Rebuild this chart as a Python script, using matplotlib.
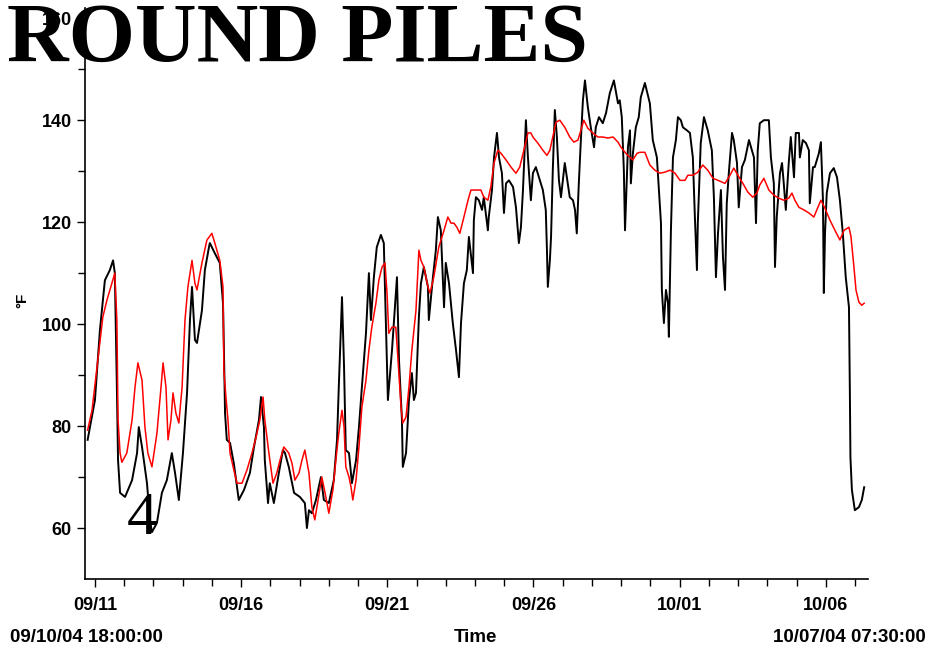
import matplotlib
matplotlib.use("Agg")
import matplotlib.pyplot as plt
import matplotlib.dates as mdates
import pandas as pd

# day offsets from 09/11/04 00:00, temperatures in °F
START = pd.Timestamp("2004-09-11")
X_RANGE = (-0.34, 26.44)

black_days = [
    -0.25, 0.00, 0.17, 0.34, 0.51, 0.62, 0.68, 0.75, 0.79, 0.86,
    1.03, 1.27, 1.44, 1.50, 1.61, 1.78, 1.88, 1.95, 2.12, 2.29,
    2.46, 2.63, 2.74, 2.87, 3.01, 3.15, 3.25, 3.32, 3.42, 3.49,
    3.66, 3.76, 3.90, 3.93, 4.10, 4.27, 4.38, 4.41, 4.45, 4.51,
    4.62, 4.75, 4.92, 5.10, 5.30, 5.44, 5.61, 5.68, 5.78, 5.81,
    5.92, 5.98, 6.12, 6.29, 6.43, 6.50, 6.63, 6.81, 7.01, 7.18,
    7.25, 7.32, 7.42, 7.56, 7.73, 7.83, 8.00, 8.17, 8.28, 8.34,
    8.45, 8.52, 8.58, 8.69, 8.79, 8.93, 9.03, 9.13, 9.27, 9.37,
    9.44, 9.54, 9.64, 9.78, 9.88, 9.95, 10.02, 10.16, 10.33, 10.40,
    10.50, 10.53, 10.64, 10.74, 10.84, 10.91, 10.98, 11.08, 11.15, 11.25,
    11.39, 11.42, 11.56, 11.66, 11.73, 11.83, 11.94, 12.00, 12.11, 12.24,
    12.35, 12.45, 12.52, 12.62, 12.72, 12.79, 12.93, 12.96, 13.03, 13.13,
    13.24, 13.30, 13.44, 13.47, 13.58, 13.65, 13.75, 13.82, 13.92, 13.99,
    14.06, 14.16, 14.30, 14.40, 14.50, 14.57, 14.64, 14.74, 14.81, 14.91,
    14.98, 15.08, 15.22, 15.32, 15.42, 15.46, 15.49, 15.56, 15.60, 15.66,
    15.73, 15.80, 15.87, 15.94, 16.07, 16.14, 16.24, 16.35, 16.42, 16.48,
    16.55, 16.62, 16.69, 16.76, 16.86, 16.96, 17.07, 17.13, 17.24, 17.37,
    17.48, 17.61, 17.75, 17.89, 17.95, 18.02, 18.09, 18.13, 18.23, 18.30,
    18.33, 18.40, 18.50, 18.60, 18.67, 18.81, 18.98, 19.08, 19.22, 19.29,
    19.36, 19.39, 19.46, 19.53, 19.60, 19.63, 19.70, 19.77, 19.87, 19.94,
    20.04, 20.11, 20.25, 20.35, 20.45, 20.52, 20.59, 20.62, 20.72, 20.83,
    20.96, 21.10, 21.17, 21.24, 21.31, 21.41, 21.48, 21.55, 21.61, 21.68,
    21.79, 21.85, 21.96, 22.02, 22.13, 22.23, 22.37, 22.47, 22.54, 22.61,
    22.67, 22.74, 22.88, 23.05, 23.12, 23.22, 23.26, 23.32, 23.43, 23.50,
    23.56, 23.63, 23.73, 23.80, 23.91, 23.97, 24.08, 24.11, 24.21, 24.32,
    24.42, 24.45, 24.56, 24.62, 24.76, 24.83, 24.90, 24.93, 24.97, 25.03,
    25.14, 25.27, 25.38, 25.48, 25.58, 25.65, 25.68, 25.79, 25.82, 25.84,
    25.89, 25.99, 26.13, 26.23, 26.31,
]
black_temp = [
    77.3, 85.1, 98.8, 108.6, 110.6, 112.5, 110.0, 87.6, 73.3, 66.9,
    66.1, 69.4, 74.7, 79.8, 75.9, 68.8, 61.6, 59.2, 61.0, 66.9,
    69.4, 74.7, 70.8, 65.5, 74.7, 86.5, 100.8, 107.3, 96.9, 96.3,
    102.7, 110.6, 115.1, 115.9, 113.9, 112.0, 104.1, 95.5, 82.5, 77.3,
    76.7, 72.7, 65.5, 67.5, 70.8, 75.9, 81.2, 85.7, 79.8, 73.3,
    64.9, 68.8, 64.9, 70.8, 75.3, 74.7, 72.0, 66.9, 66.1, 64.9,
    60.0, 63.5, 62.9, 65.5, 70.0, 65.5, 64.9, 69.4, 77.3, 87.6,
    105.3, 91.6, 75.3, 74.7, 68.8, 73.3, 79.8, 87.6, 98.2, 110.0,
    100.8, 109.2, 115.1, 117.5, 115.9, 100.8, 85.1, 94.9, 109.2, 92.9,
    81.2, 72.0, 74.7, 85.1, 90.4, 85.1, 86.5, 101.4, 108.0, 111.2,
    107.3, 100.8, 109.2, 114.5, 121.0, 118.4, 103.3, 112.0, 108.0, 100.2,
    94.9, 89.6, 100.2, 108.0, 110.6, 117.1, 110.0, 120.4, 124.9, 124.3,
    122.4, 124.9, 118.4, 121.0, 126.3, 132.7, 137.5, 132.7, 129.6, 121.8,
    127.6, 128.2, 126.9, 122.9, 115.9, 119.0, 126.3, 140.0, 132.7, 124.3,
    129.6, 130.8, 128.2, 126.3, 122.4, 114.5, 107.3, 112.5, 117.1, 130.2,
    142.0, 136.7, 128.2, 124.9, 131.6, 128.8, 124.9, 124.3, 122.4, 117.8,
    127.6, 136.1, 143.9, 147.8, 142.5, 138.6, 134.7, 138.6, 140.6, 139.4,
    141.4, 145.3, 147.8, 143.3, 143.9, 140.6, 130.2, 118.4, 134.7, 138.0,
    127.6, 133.5, 138.6, 140.6, 144.5, 147.3, 143.3, 136.1, 132.7, 126.3,
    119.8, 106.7, 100.2, 106.7, 104.1, 97.5, 118.4, 132.7, 136.1, 140.6,
    140.0, 138.6, 138.0, 137.5, 132.7, 121.0, 110.6, 119.8, 135.5, 140.6,
    138.0, 134.1, 124.9, 109.2, 117.8, 126.3, 113.1, 106.7, 123.7, 129.6,
    137.5, 136.1, 131.6, 122.9, 130.8, 132.2, 136.1, 134.1, 132.7, 119.8,
    134.1, 139.4, 140.0, 140.0, 132.7, 127.6, 111.2, 121.0, 129.6, 131.6,
    127.6, 122.4, 131.6, 136.7, 128.8, 137.5, 137.5, 132.7, 136.1, 135.5,
    134.1, 123.7, 130.8, 130.8, 133.5, 135.7, 124.3, 106.1, 117.8, 125.7,
    129.6, 130.6, 128.8, 124.3, 117.8, 112.0, 109.2, 103.3, 87.1, 73.9,
    67.5, 63.5, 64.1, 65.5, 68.0,
]

red_days = [
    -0.25, -0.10, 0.10, 0.27, 0.41, 0.58, 0.68, 0.75, 0.79, 0.86,
    0.92, 1.09, 1.27, 1.37, 1.47, 1.61, 1.71, 1.81, 1.95, 2.12,
    2.26, 2.33, 2.43, 2.50, 2.60, 2.67, 2.77, 2.87, 2.98, 3.08,
    3.18, 3.32, 3.42, 3.49, 3.66, 3.83, 4.00, 4.10, 4.27, 4.38,
    4.41, 4.48, 4.55, 4.62, 4.75, 4.86, 5.03, 5.20, 5.37, 5.51,
    5.64, 5.75, 5.81, 5.95, 6.09, 6.22, 6.33, 6.46, 6.63, 6.74,
    6.84, 6.98, 7.08, 7.18, 7.32, 7.42, 7.52, 7.63, 7.76, 7.87,
    8.00, 8.14, 8.24, 8.34, 8.45, 8.52, 8.58, 8.69, 8.76, 8.82,
    8.93, 9.03, 9.13, 9.27, 9.37, 9.47, 9.61, 9.71, 9.82, 9.92,
    9.99, 10.05, 10.16, 10.29, 10.36, 10.47, 10.53, 10.64, 10.74, 10.84,
    10.98, 11.08, 11.15, 11.25, 11.39, 11.46, 11.59, 11.76, 11.94, 12.07,
    12.18, 12.28, 12.38, 12.48, 12.62, 12.76, 12.86, 13.03, 13.20, 13.30,
    13.44, 13.54, 13.65, 13.78, 13.89, 14.06, 14.23, 14.40, 14.53, 14.67,
    14.81, 14.91, 14.98, 15.15, 15.32, 15.46, 15.56, 15.66, 15.77, 15.90,
    16.07, 16.24, 16.38, 16.52, 16.62, 16.72, 16.86, 17.03, 17.20, 17.37,
    17.54, 17.72, 17.89, 17.99, 18.16, 18.30, 18.40, 18.54, 18.64, 18.81,
    18.98, 19.15, 19.32, 19.49, 19.67, 19.84, 20.01, 20.18, 20.28, 20.45,
    20.62, 20.79, 20.96, 21.14, 21.31, 21.55, 21.72, 21.85, 21.99, 22.16,
    22.33, 22.50, 22.64, 22.74, 22.88, 23.05, 23.22, 23.39, 23.56, 23.73,
    23.84, 23.94, 24.08, 24.25, 24.42, 24.59, 24.69, 24.83, 24.97, 25.14,
    25.31, 25.48, 25.62, 25.79, 25.86, 25.96, 26.03, 26.13, 26.23, 26.31,
]
red_temp = [
    79.2, 83.1, 92.9, 101.4, 104.7, 108.0, 110.0, 100.8, 81.2, 74.7,
    72.9, 74.7, 81.2, 87.6, 92.4, 89.0, 79.8, 74.7, 72.0, 78.6,
    87.6, 92.4, 87.6, 77.3, 81.2, 86.5, 82.5, 80.6, 87.6, 100.8,
    107.3, 112.5, 108.0, 106.7, 112.0, 116.5, 117.8, 115.9, 112.5, 107.3,
    91.0, 85.7, 81.2, 74.7, 71.4, 68.8, 68.8, 71.4, 74.7, 77.8,
    81.2, 85.7, 81.2, 74.7, 68.8, 70.8, 73.3, 75.9, 74.7, 72.7,
    69.4, 70.8, 73.3, 75.3, 70.8, 64.1, 61.6, 65.5, 70.0, 66.9,
    62.9, 67.5, 73.3, 78.6, 83.1, 79.8, 72.0, 70.0, 68.0, 65.5,
    69.4, 75.9, 83.7, 89.0, 94.9, 99.4, 104.1, 108.6, 111.2, 112.0,
    106.1, 98.2, 99.4, 99.4, 93.5, 83.7, 80.6, 81.8, 87.6, 94.9,
    102.7, 114.5, 112.5, 111.2, 107.3, 106.1, 109.2, 115.1, 118.4, 121.0,
    119.8, 119.8, 119.0, 117.8, 121.0, 124.3, 126.3, 126.3, 126.3, 124.9,
    124.3, 126.9, 131.6, 134.1, 133.5, 132.2, 130.8, 129.6, 130.8, 134.1,
    137.5, 137.5, 136.7, 135.5, 134.1, 133.1, 134.1, 136.7, 139.6, 140.0,
    138.6, 136.7, 135.7, 136.1, 138.0, 140.0, 138.4, 137.5, 136.7, 136.7,
    136.5, 136.7, 135.7, 134.7, 133.5, 132.7, 132.2, 133.5, 133.7, 133.7,
    131.2, 130.2, 129.6, 129.8, 130.2, 129.6, 128.2, 128.2, 129.2, 129.2,
    129.8, 131.2, 130.2, 128.6, 128.2, 127.6, 129.2, 130.6, 129.2, 127.6,
    125.9, 124.9, 125.7, 127.3, 128.6, 126.3, 125.3, 124.7, 124.3, 124.7,
    125.7, 124.3, 122.9, 122.4, 121.8, 121.0, 122.4, 124.3, 122.7, 120.4,
    118.4, 116.5, 118.4, 119.0, 117.1, 111.2, 106.7, 104.3, 103.7, 104.1,
]

NARROW = ["Liberation Sans Narrow", "Liberation Sans", "DejaVu Sans"]
SERIF = ["Liberation Serif", "DejaVu Serif"]


def to_time(days):
    return START + pd.to_timedelta(days, unit="D")


fig = plt.figure(figsize=(9.31, 6.53), dpi=100)
ax = fig.add_axes([0.0913, 0.1133, 0.841, 0.8744])

ax.plot(to_time(black_days), black_temp, color="black", lw=1.4)
ax.plot(to_time(red_days), red_temp, color="#ff0000", lw=1.1)

ax.set_xlim(to_time(X_RANGE[0]), to_time(X_RANGE[1]))
ax.set_ylim(50, 162)

for s in ("top", "right"):
    ax.spines[s].set_visible(False)
ax.spines["left"].set_linewidth(1.2)
ax.spines["bottom"].set_linewidth(1.2)

ax.set_yticks(range(60, 161, 20))
ax.set_yticks(range(70, 161, 20), minor=True)
ax.xaxis.set_major_locator(mdates.DayLocator(bymonthday=[1, 6, 11, 16, 21, 26]))
ax.xaxis.set_minor_locator(mdates.DayLocator())
ax.xaxis.set_major_formatter(mdates.DateFormatter("%m/%d"))
ax.tick_params(axis="both", which="major", length=6, width=1, direction="out")
ax.tick_params(axis="both", which="minor", length=5, width=1, direction="out")
ax.tick_params(axis="x", pad=7)
for lab in ax.get_xticklabels() + ax.get_yticklabels():
    lab.set_family(NARROW)
    lab.set_fontweight("bold")
    lab.set_fontsize(13)

fig.text(0.024, 0.54, "°F", rotation=90, ha="center", va="center",
         family=NARROW, fontweight="bold", fontsize=11)
fig.text(0.011, 0.017, "09/10/04 18:00:00", ha="left", va="baseline",
         family=NARROW, fontweight="bold", fontsize=13.5)
fig.text(0.511, 0.017, "Time", ha="center", va="baseline",
         family=NARROW, fontweight="bold", fontsize=13.5)
fig.text(0.994, 0.017, "10/07/04 07:30:00", ha="right", va="baseline",
         family=NARROW, fontweight="bold", fontsize=13.5)

fig.text(0.153, 0.182, "4", ha="center", va="baseline", family=SERIF, fontsize=44)
fig.text(0.008, 0.906, "ROUND PILES", ha="left", va="baseline",
         family=SERIF, fontweight="bold", fontsize=61.5)

fig.savefig("out.png", dpi=100)
